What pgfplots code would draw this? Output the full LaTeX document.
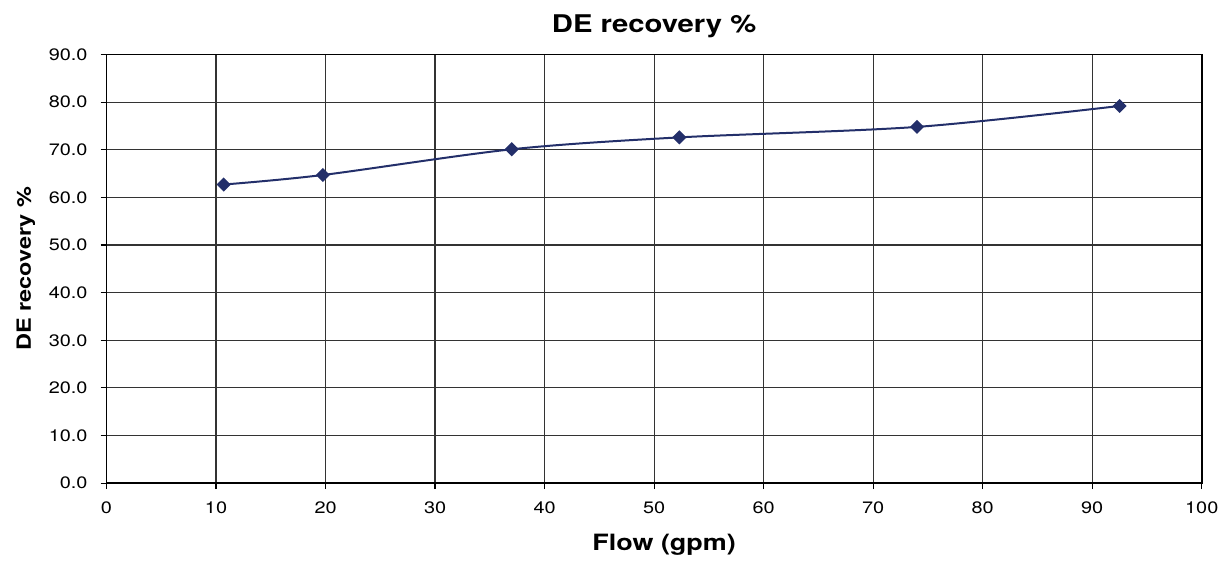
\documentclass[border=0pt]{standalone}
\usepackage{fontspec}
\setmainfont{TeX Gyre Heros}[FakeStretch=1.2]
\usepackage{pgfplots}
\pgfplotsset{compat=1.18}
\definecolor{navy}{HTML}{232F6A}
\begin{document}
\begin{tikzpicture}
\begin{axis}[
  scale only axis,
  width=548.6pt, height=214.7pt,
  xmin=0, xmax=100, ymin=0, ymax=90,
  xtick={0,10,...,100}, ytick={0,10,...,90},
  grid=major,
  major grid style={black!80, line width=0.6pt},
  axis line style={black, line width=0.8pt},
  tick style={black, line width=0.6pt},
  tick align=outside,
  major tick length=3pt,
  xtick pos=bottom, ytick pos=left,
  /pgf/number format/assume math mode=true,
  yticklabel={\pgfmathprintnumber[fixed,fixed zerofill,precision=1]{\tick}},
  ticklabel style={font=\fontsize{8.3pt}{10pt}\selectfont},
  xticklabel style={yshift=-3pt},
  yticklabel style={xshift=-3pt},
  title={\bfseries DE recovery \%},
  title style={font=\fontsize{12.2pt}{14pt}\selectfont, yshift=-1pt},
  xlabel={\bfseries Flow (gpm)},
  xlabel style={font=\fontsize{11.25pt}{13pt}\selectfont, yshift=-3pt, xshift=5pt},
  ylabel={\bfseries DE recovery \%},
  ylabel style={font=\fontsize{9.8pt}{12pt}\selectfont},
]
\addplot[navy, line width=1pt, smooth, tension=0.5, mark=square*, mark size=2pt, mark options={fill=navy, rotate=45, solid}]
coordinates {(10.7,62.7) (19.75,64.7) (37.0,70.1) (52.3,72.6) (74.0,74.8) (92.5,79.2)};
\end{axis}
\path[use as bounding box] (-53.35pt,-36pt) rectangle (559.15pt,242pt);
\end{tikzpicture}
\end{document}
